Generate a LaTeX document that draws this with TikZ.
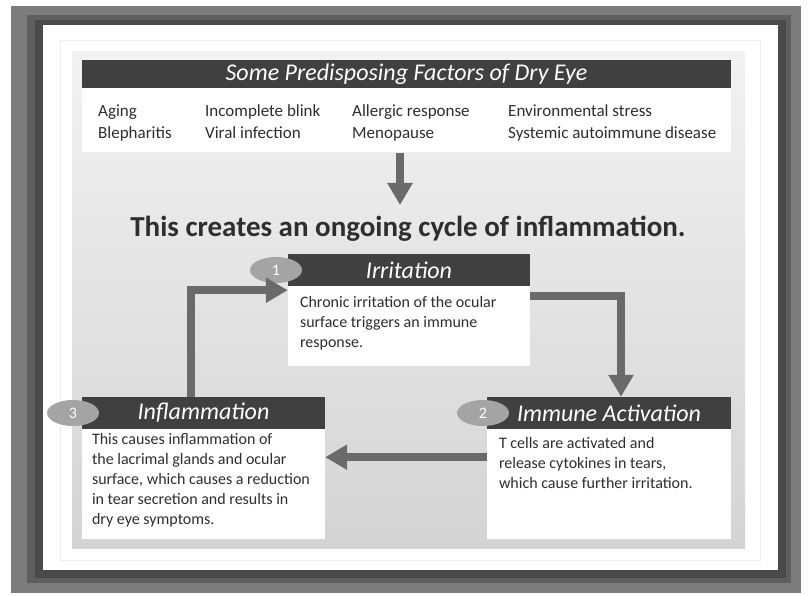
\documentclass[tikz,border=0pt]{standalone}
\usepackage{fontspec}
\setmainfont{Carlito}
\usetikzlibrary{arrows.meta,shapes.geometric,calc}
\definecolor{framegray}{HTML}{7C7C7C}
\definecolor{framemid}{HTML}{5E5E5E}
\definecolor{framedark}{HTML}{4A4A4A}
\definecolor{bardark}{HTML}{404040}
\definecolor{arrowgray}{HTML}{6A6A6A}
\definecolor{ovalgray}{HTML}{A4A4A4}
\definecolor{txtgray}{HTML}{2E2E2E}
\definecolor{panelTop}{HTML}{F2F2F2}
\definecolor{panelBot}{HTML}{D4D4D4}
\tikzset{
  hbar/.style={fill=bardark, text=white, font=\fontsize{24}{26}\selectfont\itshape, inner sep=0pt, minimum height=32},
  bodybox/.style={fill=white, inner sep=0pt, anchor=north},
  numoval/.style={ellipse, fill=ovalgray, text=white, minimum width=52, minimum height=26, inner sep=0pt, font=\fontsize{16}{16}\selectfont},
  factor/.style={anchor=base west, text=txtgray, inner sep=0pt, font=\fontsize{17}{18}\selectfont},
  boxtext/.style={anchor=north west, text=txtgray, inner sep=0pt, align=left, font=\fontsize{16}{20}\selectfont},
  arr/.style={draw=arrowgray, line width=8, -{Triangle[width=24pt,length=22pt]}}
}
\begin{document}
\begin{tikzpicture}[x=1pt,y=-1pt]
\useasboundingbox (0,0) rectangle (809,596);
% frame
\fill[white] (0,0) rectangle (809,596);
\fill[framegray] (11,6) rectangle (801,593);
\fill[framemid] (27,15) rectangle (791,583);
\fill[framedark] (35,20) rectangle (786,578);
\fill[white] (43,25) rectangle (778,570);
\draw[gray!15] (60,40) rectangle (760,560);
\shade[top color=panelTop, bottom color=panelBot] (72,52) rectangle (745,548);
% factors
\node[hbar, minimum width=649, minimum height=28] (fhead) at (406.5,74) {Some Predisposing Factors of Dry Eye};
\node[bodybox, minimum width=649, minimum height=64] (fbox) at (fhead.south) {};
\node[factor] (f1) at (98,117) {Aging};
\node[factor] (f2) at (205,117) {Incomplete blink};
\node[factor] (f3) at (352,117) {Allergic response};
\node[factor] (f4) at (508,117) {Environmental stress};
\node[factor] (f5) at (98,139) {Blepharitis};
\node[factor] (f6) at (205,139) {Viral infection};
\node[factor] (f7) at (352,139) {Menopause};
\node[factor] (f8) at (508,139) {Systemic autoimmune disease};
% title
\node[text=txtgray, font=\fontsize{29}{32}\selectfont\bfseries, inner sep=0pt] (title) at (408,229) {This creates an ongoing cycle of inflammation.};
\coordinate (dbot) at (400,205);
\draw[arr] (fbox.south -| dbot) -- (dbot);
% Irritation
\node[hbar, minimum width=242] (ih) at (409,270) {Irritation};
\node[bodybox, minimum width=242, minimum height=80] (ib) at (ih.south) {};
\node[boxtext] (it) at ($(ib.north west)+(12,10)$) {Chronic irritation of the ocular\\surface triggers an immune\\response.};
\node[numoval] (o1) at (276,270) {1};
% Immune Activation
\node[hbar, minimum width=244] (ah) at (609,413) {Immune Activation};
\node[bodybox, minimum width=244, minimum height=110] (ab) at (ah.south) {};
\node[boxtext] (at) at ($(ab.north west)+(12,8)$) {T cells are activated and\\release cytokines in tears,\\which cause further irritation.};
\node[numoval] (o2) at (483,413) {2};
% Inflammation
\node[hbar, minimum width=243] (lh) at (203.5,413) {Inflammation};
\node[bodybox, minimum width=243, minimum height=110] (lb) at (lh.south) {};
\node[boxtext] (lt) at ($(lb.north west)+(10,4)$) {This causes inflammation of\\the lacrimal glands and ocular\\surface, which causes a reduction\\in tear secretion and results in\\dry eye symptoms.};
\node[numoval] (o3) at (73,413) {3};
% cycle arrows
\draw[arr] ($(ib.north east)+(0,10)$) -| ($(ah.north)+(12,0)$);
\draw[arr] ($(ab.north west)+(0,28)$) -- ($(lb.north east)+(0,28)$);
\draw[arr] ($(lh.north)+(-13,0)$) |- ($(ib.north west)+(0,4)$);
\end{tikzpicture}
\end{document}
